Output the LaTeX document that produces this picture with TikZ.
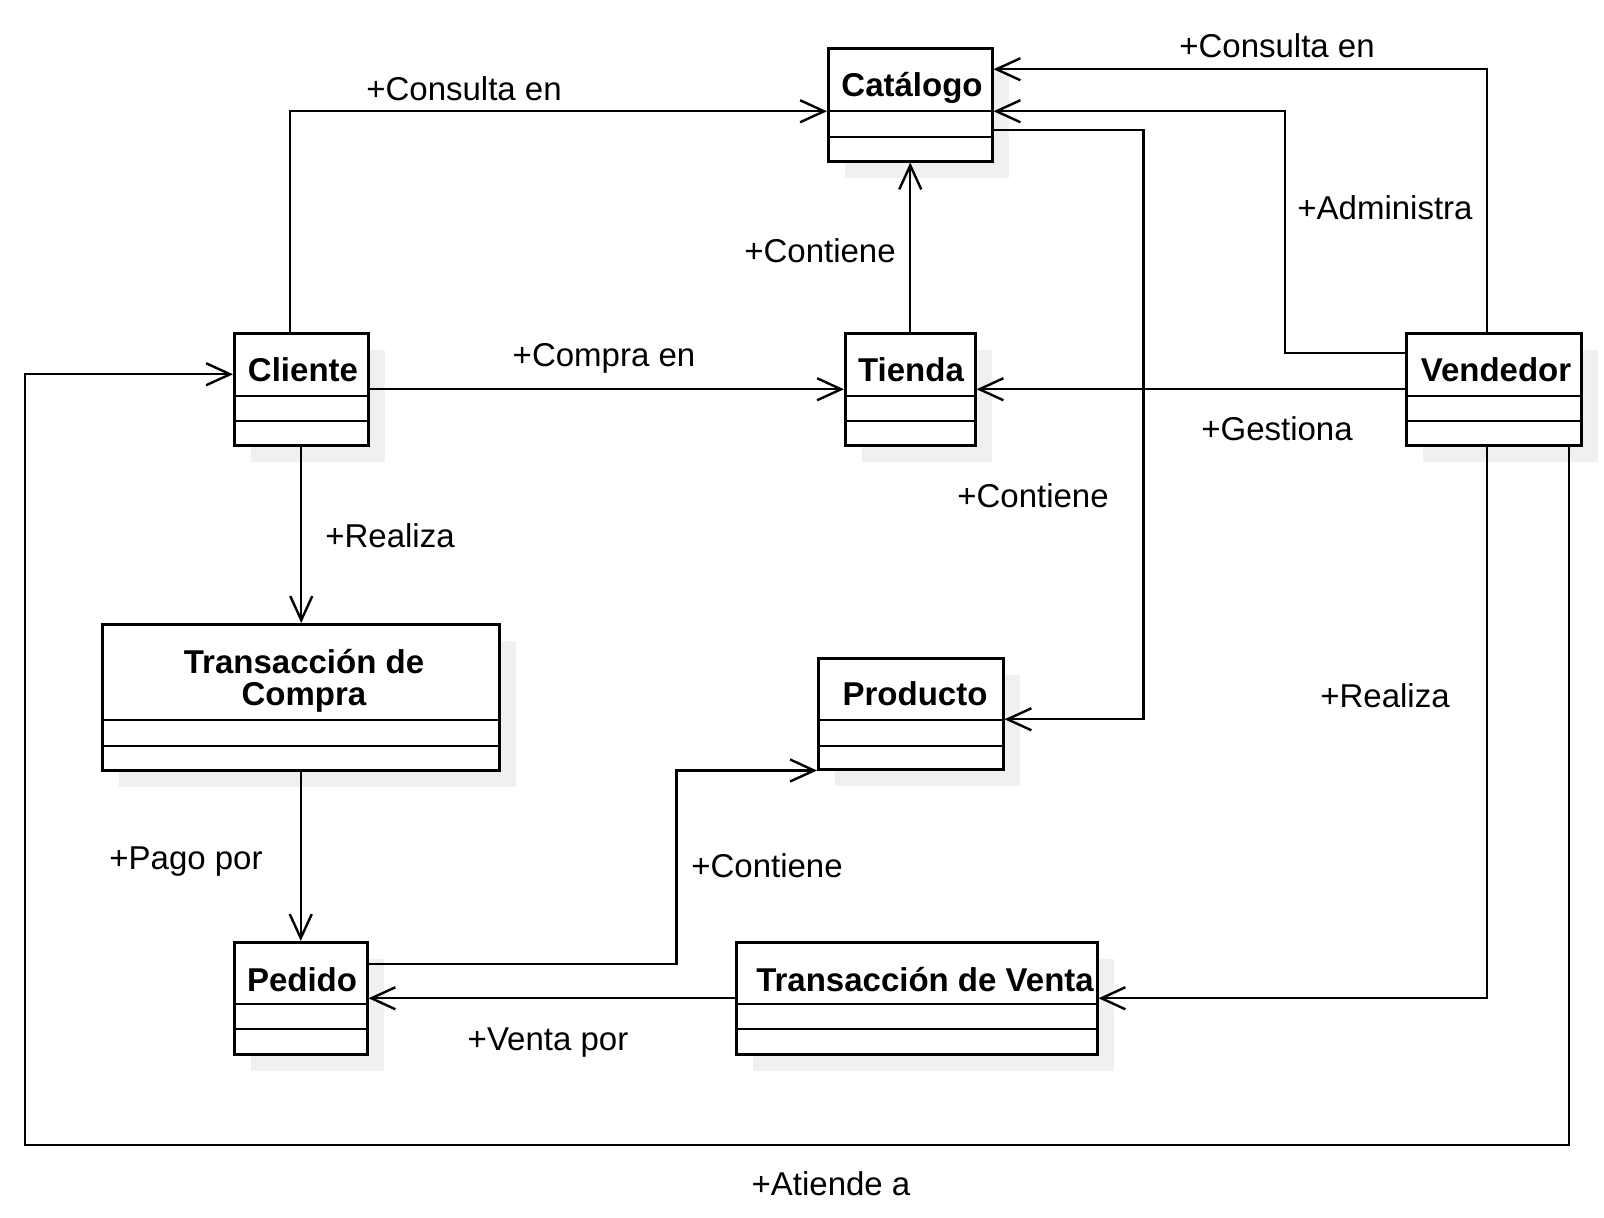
\documentclass[tikz,border=0pt]{standalone}
\usepackage{fontspec}
\setmainfont{Liberation Sans}
\usepackage{tikz}
\usetikzlibrary{arrows.meta,shadows,calc}

\tikzset{
    clase/.style={draw=black, line width=2.5pt, fill=white, inner sep=0pt, anchor=north west,
        drop shadow={shadow xshift=17pt, shadow yshift=-17pt, fill=black!6, opacity=1}},
    titulo/.style={font={\fontsize{33}{32}\selectfont\bfseries}, anchor=base, inner sep=0pt},
    rol/.style={anchor=base, inner sep=0pt},
    asoc/.style={line width=2.4pt, ->},
}

\begin{document}
\begin{tikzpicture}[line join=miter,x=1pt,y=-1pt,>={Straight Barb[length=24pt,width=22pt]},
    every node/.style={font=\fontsize{33}{36}\selectfont}]
                \useasboundingbox (0,0) rectangle (1604,1218);
                % clases
                \node[clase, minimum width=164pt, minimum height=113pt] (cat) at (827,47) {};
                \node[clase, minimum width=134pt, minimum height=112pt] (cli) at (233,332) {};
                \node[clase, minimum width=130pt, minimum height=112pt] (tie) at (844,332) {};
                \node[clase, minimum width=175pt, minimum height=112pt] (ven) at (1405,332) {};
                \node[clase, minimum width=397pt, minimum height=146pt] (tdc) at (101,623) {};
                \node[clase, minimum width=185pt, minimum height=111pt] (pro) at (817,657) {};
                \node[clase, minimum width=133pt, minimum height=112pt] (ped) at (233,941) {};
                \node[clase, minimum width=361pt, minimum height=112pt] (tdv) at (735,941) {};
                \foreach \n/\a/\b in {cat/64pt/90pt, cli/64pt/89pt, tie/64pt/89pt, ven/64pt/89pt,
                        tdc/97pt/123pt, pro/63pt/89pt, ped/63pt/88pt, tdv/63pt/88pt}
                    \draw [line width=2.5pt] ([yshift=-\a]\n.north west) -- ([yshift=-\a]\n.north east)
                        ([yshift=-\b]\n.north west) -- ([yshift=-\b]\n.north east);
                \node[titulo] (catT) at (912,96) {Catálogo};
                \node[titulo] (cliT) at (303,381) {Cliente};
                \node[titulo] (tieT) at (911,381) {Tienda};
                \node[titulo] (venT) at (1496,381) {Vendedor};
                \node[titulo, align=center] (tdcT) at (304,705) {Transacción de\\Compra};
                \node[titulo] (proT) at (915,705) {Producto};
                \node[titulo] (pedT) at (302,991) {Pedido};
                \node[titulo] (tdvT) at (925,991) {Transacción de Venta};
                % asociaciones
                \coordinate (esq) at (25,1145);
                \draw [asoc] ([xshift=-11pt]cli.north) |- ([yshift=-6.5pt]cat.west);
                \draw [asoc] (cli.east) -- (tie.west);
                \draw [asoc] (tie.north) -- (cat.south);
                \draw [asoc] ([xshift=-6.5pt]ven.north) |- ([yshift=35.5pt]cat.east);
                \draw [asoc] ([yshift=36pt]ven.west) -- ++(-120,0) |- ([yshift=-6.5pt]cat.east);
                \draw [asoc] (ven.west) -- (tie.east);
                \draw [asoc] ([yshift=-25.5pt]cat.east) -- ++(150,0) |- ([yshift=-5.5pt]pro.east);
                \draw [asoc] (cli.south) -- (cli.south |- tdc.north);
                \draw [asoc] (tdc.south) -- (ped.north);
                \draw [asoc] ([yshift=34pt]ped.east) -- ++(308,0) |- (pro.south west);
                \draw [asoc] (tdv.west) -- (ped.east);
                \draw [asoc] ([xshift=-6.5pt]ven.south) |- (tdv.east);
                \draw [asoc] ([xshift=75.5pt]ven.south) |- (esq) |- ([yshift=15pt]cli.west);
                % roles
                \node[rol] (r1) at (464,100) {+Consulta en};
                \node[rol] (r2) at (604,366) {+Compra en};
                \node[rol] (r3) at (820,262) {+Contiene};
                \node[rol] (r4) at (1277,57) {+Consulta en};
                \node[rol] (r5) at (1385,219) {+Administra};
                \node[rol] (r6) at (1277,440) {+Gestiona};
                \node[rol] (r7) at (1033,507) {+Contiene};
                \node[rol] (r8) at (390,547) {+Realiza};
                \node[rol] (r9) at (186,869) {+Pago por};
                \node[rol] (r10) at (767,877) {+Contiene};
                \node[rol] (r11) at (548,1050) {+Venta por};
                \node[rol] (r12) at (1385,707) {+Realiza};
                \node[rol] (r13) at (831,1195) {+Atiende a};
\end{tikzpicture}
\end{document}
